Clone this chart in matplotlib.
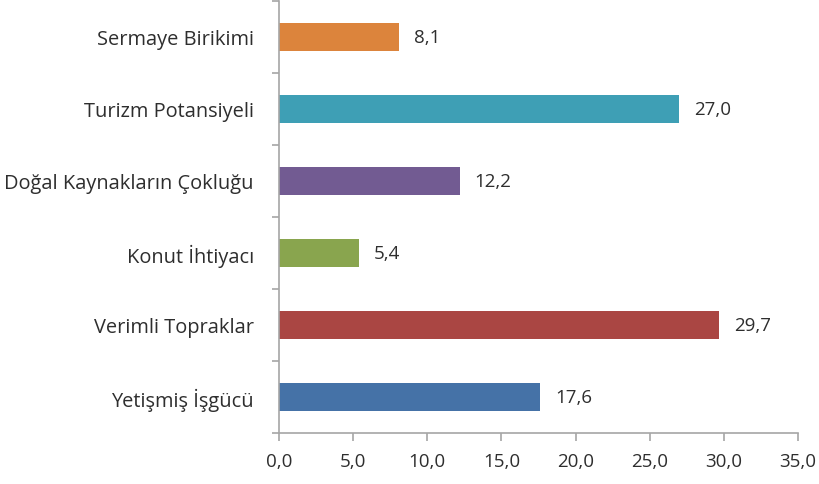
import matplotlib
matplotlib.use("Agg")
import matplotlib.pyplot as plt
import numpy as np
from matplotlib.ticker import FixedLocator, FuncFormatter

categories = ["Yetişmiş İşgücü", "Verimli Topraklar", "Konut İhtiyacı",
              "Doğal Kaynakların Çokluğu", "Turizm Potansiyeli", "Sermaye Birikimi"]
values = [17.6, 29.7, 5.4, 12.2, 27.0, 8.1]
colors = ["#4572A7", "#AA4643", "#89A54E", "#725B92", "#3E9FB5", "#DC843C"]
xticks = [0, 5, 10, 15, 20, 25, 30, 35]

plt.rcParams['font.family'] = ['Open Sans', 'DejaVu Sans']
txt = "#2E2E2E"
axc = "#A6A6A6"
fs = 13.5

fig = plt.figure(figsize=(8.2, 4.85), dpi=100)
ax = fig.add_axes([279/820, 1-434/485, (798-279)/820, (434-2)/485])

y = np.arange(len(categories))
ax.barh(y, values, height=0.40, color=colors)
for yi, v in zip(y, values):
    ax.text(v + 1.0, yi, f"{v:.1f}".replace(".", ","), va="center", ha="left",
            fontsize=fs, color=txt)

ax.set_xlim(0, 35)
ax.set_ylim(-0.5, len(categories) - 0.5)
ax.set_xticks(xticks)
ax.xaxis.set_major_formatter(FuncFormatter(lambda v, p: f"{v:.1f}".replace(".", ",")))
ax.set_yticks(y)
ax.set_yticklabels(categories)
ax.yaxis.set_minor_locator(FixedLocator(np.arange(-0.5, len(categories), 1.0)))

for s in ["top", "right"]:
    ax.spines[s].set_visible(False)
for s in ["left", "bottom"]:
    ax.spines[s].set_color(axc)
    ax.spines[s].set_linewidth(1.2)

ax.tick_params(axis="y", which="major", length=0, pad=18, labelsize=14.4, labelcolor=txt)
ax.tick_params(axis="y", which="minor", length=5, width=1.2, color=axc)
ax.tick_params(axis="x", which="major", length=6, width=1.2, color=axc, pad=8,
               labelsize=fs, labelcolor=txt)

fig.savefig("out.png", dpi=100)
